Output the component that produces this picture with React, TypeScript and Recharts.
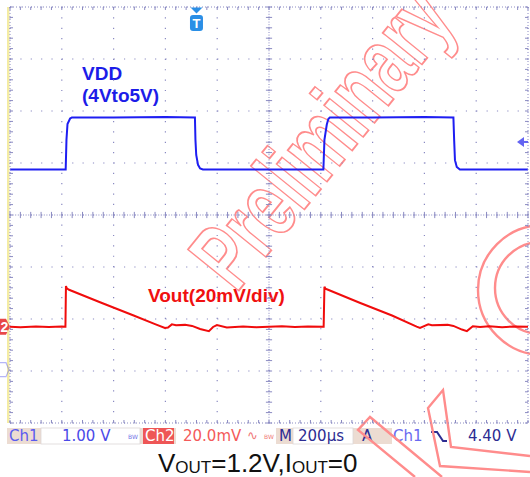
import React from 'react';
import { LineChart, Line, XAxis, YAxis, CartesianGrid, ReferenceLine, ReferenceDot } from 'recharts';

// ---- screen / scale settings (200 µs/div, 10 div; Ch1 1 V/div; Ch2 20 mV/div) ----
const timeDomain: [number, number] = [0, 2000]; // µs across screen
const majorTimeTicks = [0, 200, 400, 600, 800, 1000, 1200, 1400, 1600, 1800, 2000];
const minorTimeTicks = Array.from({ length: 51 }, (_, i) => i * 40);
const divTicks = [0, 1, 2, 3, 4, 5, 6, 7, 8];
const minorDivTicks = Array.from({ length: 41 }, (_, i) => +(i * 0.2).toFixed(1));
const ch1Domain: [number, number] = [-0.875, 7.125]; // V
const ch2Domain: [number, number] = [-37.04, 122.96]; // mV deviation of Vout (1.2 V)

// ---- Ch1 : VDD (V) ----
const vddTime = [0, 100, 215, 218, 222, 232, 239, 400, 600, 714, 716, 719, 726, 734, 745, 900, 1100, 1210, 1214, 1223, 1229, 1235, 1400, 1600, 1712, 1715, 1718, 1725, 1737, 1850, 2000];
const vddVolts = [4.0, 4.0, 4.0, 4.57, 4.875, 4.98, 5.0, 5.0, 5.01, 5.0, 4.57, 4.28, 4.09, 4.02, 4.0, 4.0, 4.0, 4.0, 4.57, 4.86, 4.97, 5.0, 5.0, 5.01, 5.0, 4.55, 4.18, 4.05, 4.0, 4.0, 4.0];

// ---- Ch2 : Vout ripple (mV) ----
const voutTime = [0, 40, 100, 150, 200, 214, 216, 219, 228, 350, 475, 560, 598, 610, 625, 641, 676, 703, 734, 768, 784, 799, 837, 900, 950, 1000, 1050, 1100, 1150, 1211, 1214, 1218, 1228, 1350, 1475, 1570, 1583, 1615, 1629, 1690, 1712, 1745, 1764, 1787, 1815, 1850, 1900, 1950, 2000];
const voutMv = [0, -0.2, 0.1, -0.1, 0.1, 0, 15.6, 14.8, 14.2, 9.3, 4.4, 1.0, -0.5, -0.3, 0.9, 0.6, 0.7, 0.3, -0.9, -1.7, -0.1, 0.6, -0.3, 0.1, -0.2, 0, 0.2, -0.1, 0.1, 0, 15.4, 14.6, 14.2, 9.2, 4.3, 0, -0.5, 0.9, 0.6, 0.7, 0.3, -1.1, -1.7, 0.2, -0.1, 0.2, -0.2, 0.1, 0];

// ---- markers ----
const triggerTime = 720; // µs on screen
const triggerMarkV = 4.53;
const ch1GroundMarkV = 0.15;
const ch2GroundMarkMv = 0;

const vddData = vddTime.map((t, i) => ({ t, v: vddVolts[i] }));
const voutData = voutTime.map((t, i) => ({ t, mv: voutMv[i] }));

const GRID = '#8a8ac2';
const STATUS_FONT = '"DejaVu Sans", sans-serif';
const ARIAL = '"Liberation Sans", Arial, sans-serif';

const TriggerShape = (p: any) => {
  const { cx, cy } = p;
  return (
    <g>
      <path d={`M${cx - 6},${cy + 0.5} L${cx + 6},${cy + 0.5} L${cx},${cy + 6.5} Z`} fill="#2a8fe6" />
      <rect x={cx - 6.5} y={cy + 8} width={13} height={16} rx={3} fill="#2a8fe6" />
      <text x={cx} y={cy + 21} textAnchor="middle" fontFamily={ARIAL} fontWeight="bold" fontSize={13} fill="#fff">T</text>
    </g>
  );
};

const Ch2Shape = (p: any) => {
  const { cx, cy } = p;
  return (
    <g>
      <path d={`M${cx - 10},${cy - 8} L${cx - 4},${cy - 8} L${cx},${cy} L${cx - 4},${cy + 8} L${cx - 10},${cy + 8} Z`} fill="#e84848" />
      <text x={cx - 5.5} y={cy + 5} textAnchor="middle" fontFamily={ARIAL} fontWeight="bold" fontSize={14} fill="#fff">2</text>
    </g>
  );
};

const Ch1Shape = (p: any) => {
  const { cx, cy } = p;
  return (
    <g opacity={0.45}>
      <path d={`M${cx - 10},${cy - 7} L${cx - 4},${cy - 7} L${cx - 1},${cy} L${cx - 4},${cy + 7} L${cx - 10},${cy + 7}`} fill="none" stroke="#5a5af0" strokeWidth={1.2} />
    </g>
  );
};

const TrigLevelShape = (p: any) => {
  const { cx, cy } = p;
  return (
    <g>
      <path d={`M${cx - 11},${cy} L${cx - 4},${cy - 5} L${cx - 4},${cy + 5} Z`} fill="#6464f2" />
      <line x1={cx - 5} y1={cy} x2={cx} y2={cy} stroke="#6464f2" strokeWidth={2} />
    </g>
  );
};

const StatusBar = () => (
  <g fontFamily={STATUS_FONT} fontSize={15}>
    <rect x={7} y={428} width={523} height={16} fill="#ecdcd2" />
    <rect x={41} y={428} width={99} height={16} fill="#ffffff" stroke="#ddd6d6" strokeWidth={0.8} />
    <rect x={143} y={428} width={31} height={16} fill="#ee5656" />
    <rect x={176} y={428} width={100} height={16} fill="#ffffff" />
    <rect x={293} y={428} width={60} height={16} fill="#ffffff" stroke="#ddd6d6" strokeWidth={0.8} />
    <rect x={392} y={428} width={138} height={16} fill="#ffffff" />
    <text x={9} y={441} fill="#5b5bef">Ch1</text>
    <text x={62} y={441} fill="#4a4ae8">1.00 V</text>
    <text x={128} y={439} fontSize={6} fill="#7474e6">BW</text>
    <text x={145} y={441} fill="#ffffff">Ch2</text>
    <text x={183} y={441} fill="#f45a5a">20.0mV</text>
    <text x={247} y={440} fontSize={13} fill="#f07878">∿</text>
    <text x={264} y={439} fontSize={6} fill="#f07878">BW</text>
    <text x={279} y={441} fill="#2c2c92">M</text>
    <text x={298} y={441} fill="#2c2c92">200µs</text>
    <text x={362} y={441} fill="#2c2c92">A</text>
    <text x={393} y={441} fill="#6a6af0">Ch1</text>
    <path d="M431,432 H437 L443,441 H447" fill="none" stroke="#2c2c92" strokeWidth={2} />
    <text x={468} y={441} fill="#2c2c92">4.40 V</text>
  </g>
);

const Underlay = () => (
  <svg width={530} height={477} style={{ position: 'absolute', left: 0, top: 0 }}>
    <rect x={0} y={0} width={530} height={477} fill="#ffffff" />
    <StatusBar />
    <text x={158} y={472} fontFamily={ARIAL} fontSize={26} fill="#111">
      V<tspan fontSize={17} dy={1}>OUT</tspan><tspan fontSize={26} dy={-1}>=1.2V,I</tspan><tspan fontSize={17} dy={1}>OUT</tspan><tspan fontSize={26} dy={-1}>=0</tspan>
    </text>
    <text x={82} y={80} fontFamily={ARIAL} fontWeight="bold" fontSize={19} fill="#1c1ce8">VDD</text>
    <text x={82} y={102} fontFamily={ARIAL} fontWeight="bold" fontSize={19} fill="#1c1ce8">(4Vto5V)</text>
    <text x={148} y={302} fontFamily={ARIAL} fontWeight="bold" fontSize={19} fill="#f01010">Vout(20mV/div)</text>
    {/* watermark */}
    <g fill="none" stroke="#ff8c8c" strokeWidth={1.6}>
      <text x={0} y={0} transform="translate(236 294) rotate(-51) scale(0.68 1)" fontFamily={ARIAL} fontWeight="bold" fontSize={95} vectorEffect="non-scaling-stroke">Preliminary</text>
      <circle cx={543} cy={290} r={65} strokeWidth={2.4} />
      <circle cx={541} cy={288} r={46} strokeWidth={2.4} />
      <polyline points="415,477 358,430 370,417 442,477" strokeWidth={2.4} />
      <polyline points="530,472 440,466 428,408 443,390 451,447 530,456" strokeWidth={2.4} />
    </g>
    <rect x={7} y={7} width={2.5} height={416} fill="#f4eca4" />
  </svg>
);

export default function App() {
  return (
    <div style={{ position: 'absolute', left: 0, top: 0, width: 530, height: 477 }}>
      <Underlay />
      <div style={{ position: 'absolute', left: 0, top: 0 }}>
        <LineChart width={530} height={477} margin={{ top: 7, right: 2, bottom: 54, left: 10 }}>
          <XAxis xAxisId="g" dataKey="t" type="number" domain={timeDomain} ticks={majorTimeTicks} hide allowDataOverflow />
          <XAxis xAxisId="t" dataKey="t" type="number" domain={timeDomain} ticks={minorTimeTicks} orientation="bottom" mirror tickSize={3}
            tickLine={{ stroke: GRID }} axisLine={{ stroke: GRID, strokeDasharray: '1 2' }} tickFormatter={() => ''} allowDataOverflow />
          <XAxis xAxisId="top" dataKey="t" type="number" domain={timeDomain} ticks={minorTimeTicks} orientation="top" mirror tickSize={3}
            tickLine={{ stroke: GRID }} axisLine={{ stroke: GRID, strokeDasharray: '1 2' }} tickFormatter={() => ''} allowDataOverflow />
          <YAxis yAxisId="div" type="number" domain={[0, 8]} ticks={divTicks} hide allowDataOverflow />
          <YAxis yAxisId="left" type="number" domain={[0, 8]} ticks={minorDivTicks} orientation="left" mirror tickSize={3}
            tickLine={{ stroke: GRID }} axisLine={{ stroke: GRID, strokeDasharray: '1 2' }} tickFormatter={() => ''} allowDataOverflow />
          <YAxis yAxisId="right" type="number" domain={[0, 8]} ticks={minorDivTicks} orientation="right" mirror tickSize={3}
            tickLine={{ stroke: GRID }} axisLine={{ stroke: GRID, strokeDasharray: '1 2' }} tickFormatter={() => ''} allowDataOverflow />
          <YAxis yAxisId="ch1" type="number" domain={ch1Domain} hide allowDataOverflow />
          <YAxis yAxisId="ch2" type="number" domain={ch2Domain} hide allowDataOverflow />

          <CartesianGrid xAxisId="g" yAxisId="div" stroke={GRID} strokeWidth={1.2} strokeDasharray="1.2 9.16" />
          <ReferenceLine xAxisId="g" yAxisId="div" x={1000} stroke={GRID} strokeDasharray="1 1.6" />
          <ReferenceLine xAxisId="g" yAxisId="div" y={4} stroke={GRID} strokeDasharray="1 1.6" />
          {minorTimeTicks.map((t) => (
            <ReferenceLine key={'tx' + t} xAxisId="g" yAxisId="div" segment={[{ x: t, y: 3.94 }, { x: t, y: 4.06 }]} stroke={GRID} />
          ))}
          {minorDivTicks.map((d) => (
            <ReferenceLine key={'ty' + d} xAxisId="g" yAxisId="div" segment={[{ x: 988, y: d }, { x: 1012, y: d }]} stroke={GRID} />
          ))}

          <Line xAxisId="t" yAxisId="ch1" data={vddData} dataKey="v" type="linear" stroke="#1e1ef2" strokeWidth={2} dot={false} isAnimationActive={false} />
          <Line xAxisId="t" yAxisId="ch2" data={voutData} dataKey="mv" type="linear" stroke="#f00c0c" strokeWidth={2} dot={false} isAnimationActive={false} />

          <ReferenceDot xAxisId="g" yAxisId="div" x={triggerTime} y={8} shape={(p: any) => <TriggerShape {...p} />} ifOverflow="visible" />
          <ReferenceDot xAxisId="g" yAxisId="ch2" x={0} y={ch2GroundMarkMv} shape={(p: any) => <Ch2Shape {...p} />} ifOverflow="visible" />
          <ReferenceDot xAxisId="g" yAxisId="ch1" x={0} y={ch1GroundMarkV} shape={(p: any) => <Ch1Shape {...p} />} ifOverflow="visible" />
          <ReferenceDot xAxisId="g" yAxisId="ch1" x={2000} y={triggerMarkV} shape={(p: any) => <TrigLevelShape {...p} />} ifOverflow="visible" />
        </LineChart>
      </div>
    </div>
  );
}
